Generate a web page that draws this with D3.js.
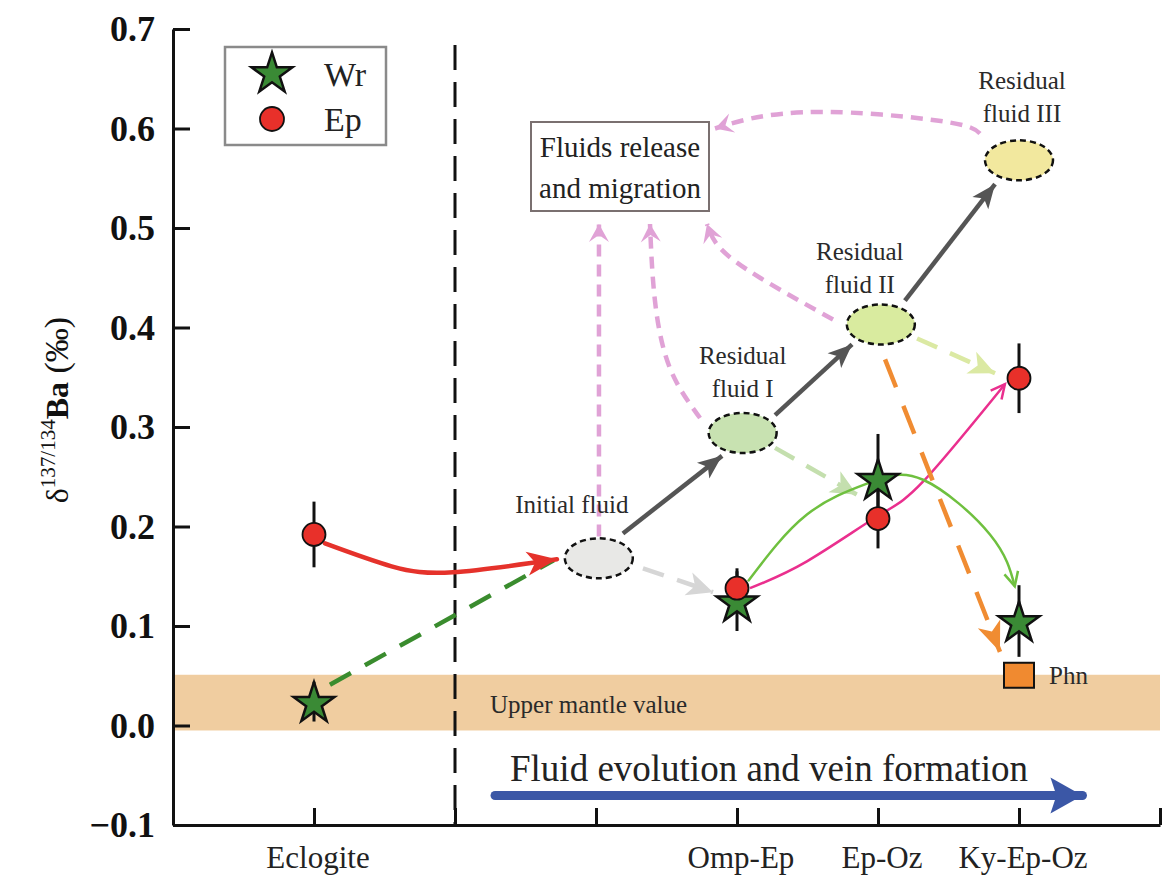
<!DOCTYPE html>
<html>
<head>
<meta charset="utf-8">
<script src="https://cdn.jsdelivr.net/npm/d3@7"></script>
<style>
  body { margin: 0; background: #fff; }
  svg text { font-family: "Liberation Serif", "Times New Roman", serif; }
</style>
</head>
<body>
<div id="vis"></div>
<script>
const FRAME_WIDTH = 1169;
const FRAME_HEIGHT = 877;
const MARGINS = { left: 173, right: 9, top: 29, bottom: 52 };

// sample positions along x (index of tick)
const X_TICKS = [1, 2, 3, 4, 5, 6, 7];
const SAMPLE_POS = [1, 4, 5, 6];
const SAMPLE_NAMES = ["Eclogite", "Omp-Ep", "Ep-Oz", "Ky-Ep-Oz"];
const Y_TICKS = [-0.1, 0.0, 0.1, 0.2, 0.3, 0.4, 0.5, 0.6, 0.7];

// d137/134Ba values
const WR_VALUES = [0.024, 0.125, 0.248, 0.105];
const WR_ERRORS = [0.02, 0.03, 0.045, 0.036];
const EP_VALUES = [0.192, 0.138, 0.208, 0.349];
const EP_ERRORS = [0.033, 0.02, 0.03, 0.035];
const PHN_POS = 6;
const PHN_VALUE = 0.051;
const MANTLE_BAND = [-0.005, 0.051];

// fluid stages
const FLUID_NAMES = [["Initial fluid"], ["Residual", "fluid I"], ["Residual", "fluid II"], ["Residual", "fluid III"]];
const FLUID_POS = [3.02, 4.04, 5.02, 6.0];
const FLUID_VALUES = [0.168, 0.294, 0.403, 0.568];

const X_SCALE = d3.scaleLinear().domain([0, 7]).range([MARGINS.left, FRAME_WIDTH - MARGINS.right]);
const Y_SCALE = d3.scaleLinear().domain([-0.1, 0.7]).range([FRAME_HEIGHT - MARGINS.bottom, MARGINS.top]);

const svg = d3.select("#vis").append("svg")
  .attr("width", FRAME_WIDTH)
  .attr("height", FRAME_HEIGHT)
  .attr("font-family", "Liberation Serif, Times New Roman, serif");

const defs = svg.append("defs");

function addMarker(id, color, len, hw, notch, open, sw) {
  defs.append("marker")
    .attr("id", id)
    .attr("markerUnits", "userSpaceOnUse")
    .attr("orient", "auto")
    .attr("viewBox", `-4 ${-hw - 4} ${len + 8} ${2 * hw + 8}`)
    .attr("markerWidth", len + 8)
    .attr("markerHeight", 2 * hw + 8)
    .attr("refX", len)
    .attr("refY", 0)
    .append("path")
    .attr("d", open ? `M0,${-hw}L${len},0L0,${hw}` : `M0,${-hw}L${len},0L0,${hw}L${notch},0Z`)
    .attr("fill", open ? "none" : color)
    .attr("stroke", open ? color : "none")
    .attr("stroke-width", sw || 0)
    .attr("stroke-linejoin", "miter");
}

addMarker("m-red", "#e5322b", 30, 12, 8);
addMarker("m-gray", "#555555", 24, 10, 6);
addMarker("m-lgray", "#d6d6d6", 26, 12, 7);
addMarker("m-lgreen", "#c4dfae", 26, 12, 7);
addMarker("m-lyellow", "#dbe9a3", 26, 12, 7);
addMarker("m-orange", "#f08c32", 30, 12, 8);
addMarker("m-pink", "#e0a2d6", 18, 10, 7);
addMarker("m-green", "#6fc03f", 14, 7, 0, true, 2.5);
addMarker("m-magenta", "#ea2f8e", 14, 7, 0, true, 2.5);
addMarker("m-blue", "#3b57a6", 32, 18, 6);

// upper mantle band
svg.append("rect")
  .attr("x", X_SCALE(0))
  .attr("y", Y_SCALE(MANTLE_BAND[1]))
  .attr("width", X_SCALE(7) - X_SCALE(0))
  .attr("height", Y_SCALE(MANTLE_BAND[0]) - Y_SCALE(MANTLE_BAND[1]))
  .attr("fill", "#f0cda0");

svg.append("text")
  .attr("x", 490).attr("y", 713)
  .attr("font-size", 25).attr("fill", "#2a2a2a")
  .text("Upper mantle value");

// dashed separator
svg.append("line")
  .attr("x1", X_SCALE(2)).attr("x2", X_SCALE(2))
  .attr("y1", 45).attr("y2", Y_SCALE(-0.1))
  .attr("stroke", "#111").attr("stroke-width", 3)
  .attr("stroke-dasharray", "25,12");

// axes
const yAxis = svg.append("g")
  .attr("transform", "translate(" + MARGINS.left + ",0)")
  .call(d3.axisLeft(Y_SCALE).tickValues(Y_TICKS).tickFormat(d3.format(".1f"))
    .tickSize(-17).tickSizeOuter(0).tickPadding(18));
yAxis.attr("font-family", "Liberation Serif, serif");
yAxis.selectAll("text").attr("font-size", 36).attr("font-weight", "bold").attr("fill", "#111");
yAxis.selectAll("line, path").attr("stroke", "#111").attr("stroke-width", 3);

const xAxis = svg.append("g")
  .attr("transform", "translate(0," + Y_SCALE(-0.1) + ")")
  .call(d3.axisBottom(X_SCALE).tickValues(X_TICKS).tickFormat("")
    .tickSize(-17).tickSizeOuter(0));
xAxis.selectAll("line, path").attr("stroke", "#111").attr("stroke-width", 3);

svg.selectAll(".xlab")
  .data(SAMPLE_NAMES)
  .enter()
  .append("text")
  .attr("class", "xlab")
  .attr("x", (d, i) => X_SCALE(SAMPLE_POS[i]) + 4)
  .attr("y", 868)
  .attr("text-anchor", "middle")
  .attr("font-size", 31)
  .attr("fill", "#222")
  .text((d) => d);

// y label
const yLab = svg.append("text")
  .attr("transform", "translate(68,410) rotate(-90)")
  .attr("text-anchor", "middle")
  .attr("font-size", 32)
  .attr("font-weight", "bold")
  .attr("fill", "#111");
yLab.append("tspan").attr("font-weight", "normal").text("δ");
yLab.append("tspan").attr("font-size", 21).attr("font-weight", "normal").attr("dy", -13).text("137/134");
yLab.append("tspan").attr("dy", 13).text("Ba");
yLab.append("tspan").attr("font-weight", "normal").attr("font-size", 34).text(" (‰)");

// arrows (points in data units)
const line = d3.line().x((d) => X_SCALE(d[0])).y((d) => Y_SCALE(d[1]));

function arrow(pts, color, width, dash, marker, cap) {
  const p = svg.append("path")
    .attr("d", line.curve(pts.length > 2 ? d3.curveNatural : d3.curveLinear)(pts))
    .attr("fill", "none")
    .attr("stroke", color)
    .attr("stroke-width", width)
    .attr("stroke-dasharray", dash)
    .attr("stroke-linecap", cap || "butt");
  if (marker) p.attr("marker-end", "url(#" + marker + ")");
}

// fluid release (pink dashed)
arrow([[3.021, 0.19], [3.021, 0.504]], "#e0a2d6", 4.5, "12,8", "m-pink");
arrow([[3.738, 0.309], [3.525, 0.359], [3.418, 0.427], [3.383, 0.504]], "#e0a2d6", 4.5, "12,8", "m-pink");
arrow([[4.681, 0.408], [4.163, 0.45], [3.879, 0.48], [3.787, 0.504]], "#e0a2d6", 4.5, "12,8", "m-pink");
arrow([[5.723, 0.595], [5.511, 0.606], [4.801, 0.616], [4.213, 0.613], [3.844, 0.6]], "#e0a2d6", 4.5, "12,8", "m-pink");

// Eclogite to initial fluid
arrow([[1.113, 0.041], [2.7, 0.166]], "#3a8c2e", 4.5, "24,16", null);
arrow([[1.078, 0.183], [1.55, 0.16], [1.986, 0.154], [2.723, 0.167]], "#e5322b", 4.5, null, "m-red", "round");

// fluid evolution (dark gray)
arrow([[3.191, 0.193], [3.894, 0.271]], "#555555", 4.5, null, "m-gray");
arrow([[4.27, 0.312], [4.816, 0.383]], "#555555", 4.5, null, "m-gray");
arrow([[5.191, 0.427], [5.83, 0.544]], "#555555", 4.5, null, "m-gray");

// fluid to vein minerals
arrow([[3.333, 0.158], [3.83, 0.134]], "#d6d6d6", 4.5, "22,14", "m-lgray");
arrow([[4.27, 0.279], [4.851, 0.232]], "#c4dfae", 4.5, "22,14", "m-lgreen");
arrow([[5.277, 0.389], [5.83, 0.354]], "#dbe9a3", 4.5, "22,14", "m-lyellow");

// trends
arrow([[4.092, 0.138], [4.496, 0.165], [4.993, 0.21], [5.319, 0.245], [5.9, 0.343]], "#ea2f8e", 2.5, null, "m-magenta");
arrow([[4.078, 0.145], [4.496, 0.212], [4.94, 0.244], [5.32, 0.247], [5.794, 0.192], [5.97, 0.14]], "#6fc03f", 2.5, null, "m-green");

arrow([[5.05, 0.368], [5.865, 0.074]], "#f08c32", 4.5, "30,20", "m-orange");

// blue evolution arrow
arrow([[2.284, -0.0704], [6.45, -0.0704]], "#3b57a6", 9, null, "m-blue", "round");
svg.append("text")
  .attr("x", 510).attr("y", 781)
  .attr("font-size", 37).attr("fill", "#222")
  .text("Fluid evolution and vein formation");

// fluid ellipses
const FLUID_FILLS = ["#e8e8e6", "#c8e2b1", "#d9eb9f", "#f2e89e"];
svg.selectAll(".fluid")
  .data(FLUID_VALUES)
  .enter()
  .append("ellipse")
  .attr("class", "fluid")
  .attr("cx", (d, i) => X_SCALE(FLUID_POS[i]))
  .attr("cy", (d) => Y_SCALE(d))
  .attr("rx", 34)
  .attr("ry", 20)
  .attr("fill", (d, i) => FLUID_FILLS[i])
  .attr("stroke", "#111")
  .attr("stroke-width", 2.5)
  .attr("stroke-dasharray", "6,4");

const LABEL_OFFSETS = [[-27, -45], [0, -69], [-21, -65], [3, -71]];
FLUID_NAMES.forEach((lines, i) => {
  const t = svg.append("text")
    .attr("text-anchor", "middle")
    .attr("font-size", 25)
    .attr("fill", "#2a2a2a");
  lines.forEach((s, j) => {
    t.append("tspan")
      .attr("x", X_SCALE(FLUID_POS[i]) + LABEL_OFFSETS[i][0])
      .attr("y", Y_SCALE(FLUID_VALUES[i]) + LABEL_OFFSETS[i][1] + j * 33)
      .text(s);
  });
});

// fluids release box
svg.append("rect")
  .attr("x", 531).attr("y", 122).attr("width", 178).attr("height", 89)
  .attr("fill", "#fff").attr("stroke", "#7a7070").attr("stroke-width", 2);
svg.append("text").attr("x", 620).attr("y", 157).attr("text-anchor", "middle")
  .attr("font-size", 29).attr("fill", "#222").text("Fluids release");
svg.append("text").attr("x", 620).attr("y", 198).attr("text-anchor", "middle")
  .attr("font-size", 29).attr("fill", "#222").text("and migration");

// error bars
function errBars(vals, errs) {
  svg.selectAll(null)
    .data(vals)
    .enter()
    .append("line")
    .attr("x1", (d, i) => X_SCALE(SAMPLE_POS[i]))
    .attr("x2", (d, i) => X_SCALE(SAMPLE_POS[i]))
    .attr("y1", (d, i) => Y_SCALE(d - errs[i]))
    .attr("y2", (d, i) => Y_SCALE(d + errs[i]))
    .attr("stroke", "#111")
    .attr("stroke-width", 3);
}
errBars(WR_VALUES, WR_ERRORS);
errBars(EP_VALUES, EP_ERRORS);

const star = d3.symbol().type(d3.symbolStar).size(520);

// Phn
svg.append("rect")
  .attr("x", X_SCALE(PHN_POS) - 15)
  .attr("y", Y_SCALE(PHN_VALUE) - 12)
  .attr("width", 30).attr("height", 25)
  .attr("fill", "#f08a30").attr("stroke", "#111").attr("stroke-width", 2);
svg.append("text").attr("x", X_SCALE(PHN_POS) + 30).attr("y", Y_SCALE(PHN_VALUE) + 9)
  .attr("font-size", 25).attr("fill", "#2a2a2a").text("Phn");

// points
svg.selectAll(".wr")
  .data(WR_VALUES)
  .enter()
  .append("path")
  .attr("class", "wr")
  .attr("d", star)
  .attr("transform", (d, i) => "translate(" + X_SCALE(SAMPLE_POS[i]) + "," + (Y_SCALE(d) + 2) + ")")
  .attr("fill", "#3a8a35")
  .attr("stroke", "#111")
  .attr("stroke-width", 2.5)
  .attr("stroke-linejoin", "miter");

svg.selectAll(".ep")
  .data(EP_VALUES)
  .enter()
  .append("circle")
  .attr("class", "ep")
  .attr("cx", (d, i) => X_SCALE(SAMPLE_POS[i]))
  .attr("cy", (d) => Y_SCALE(d))
  .attr("r", 11.5)
  .attr("fill", "#e8302a")
  .attr("stroke", "#111")
  .attr("stroke-width", 1.8);

// legend
svg.append("rect")
  .attr("x", 225).attr("y", 47).attr("width", 161).attr("height", 98)
  .attr("fill", "#fff").attr("stroke", "#8a8a8a").attr("stroke-width", 2.5);
svg.append("path").attr("d", star).attr("transform", "translate(272,74)")
  .attr("fill", "#3a8a35").attr("stroke", "#111").attr("stroke-width", 2.5);
svg.append("circle").attr("cx", 272).attr("cy", 119).attr("r", 12)
  .attr("fill", "#e8302a").attr("stroke", "#111").attr("stroke-width", 1.8);
svg.append("text").attr("x", 324).attr("y", 86).attr("font-size", 34).attr("fill", "#222").text("Wr");
svg.append("text").attr("x", 324).attr("y", 131).attr("font-size", 34).attr("fill", "#222").text("Ep");
</script>
</body>
</html>
